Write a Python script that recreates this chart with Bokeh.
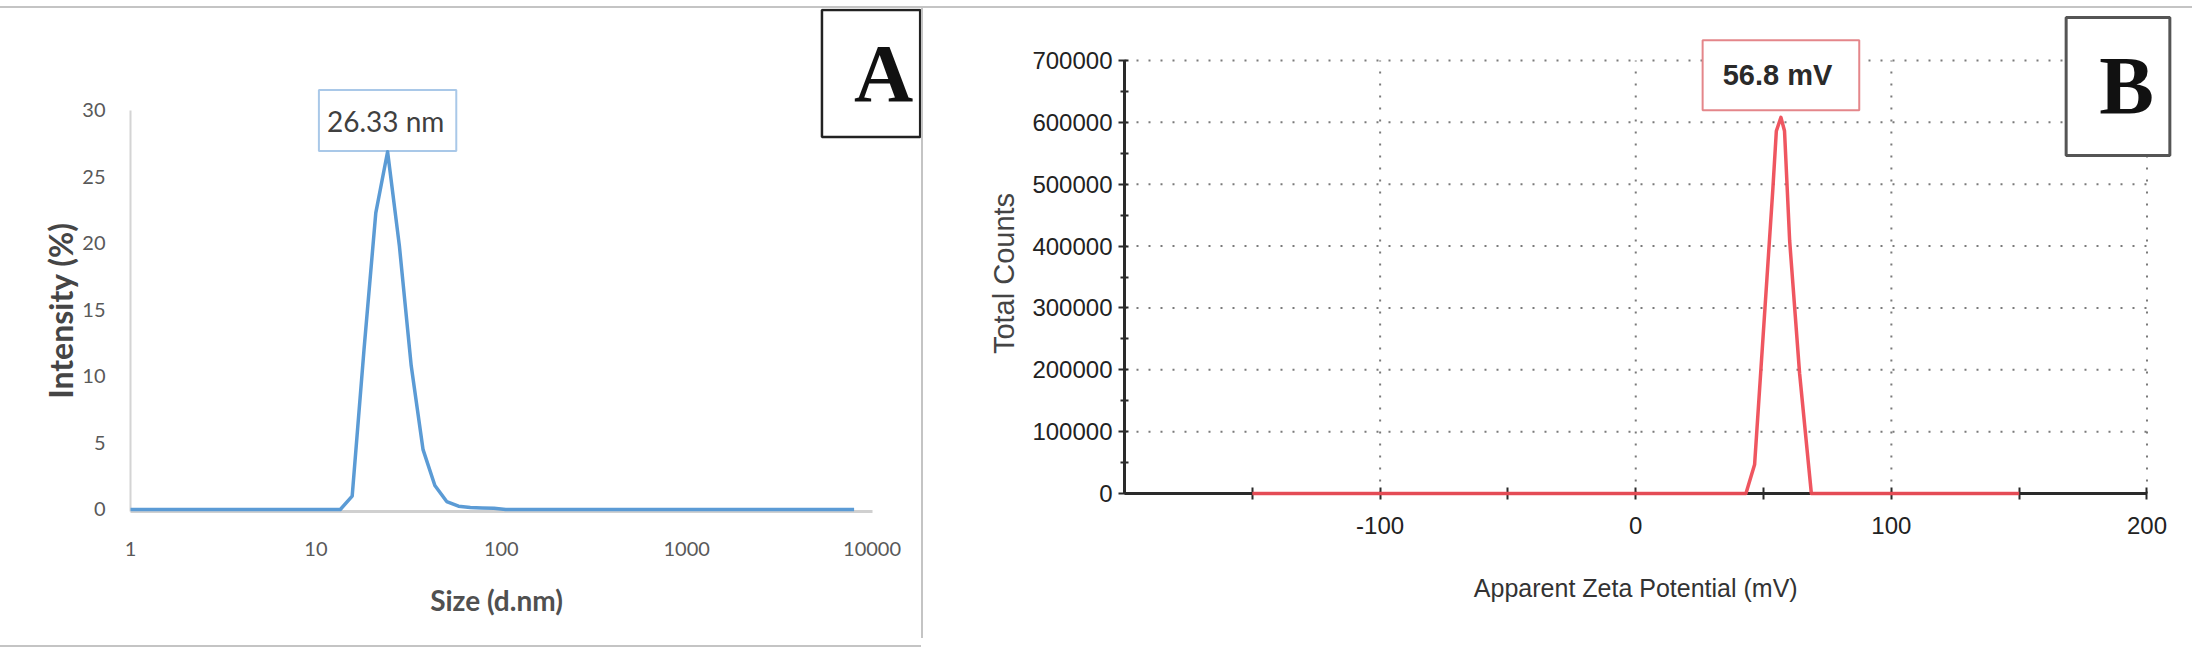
import math
from bokeh.plotting import figure
from bokeh.models import Range1d, FixedTicker, Label, Div, CustomJSTickFormatter
from bokeh.layouts import row, column
from bokeh.embed import file_html
from bokeh.resources import INLINE

# ---------------- Panel A data (DLS size distribution) ----------------
size_nm = [1.0, 13.54, 15.69, 18.17, 21.04, 24.36, 28.21, 32.67, 37.84, 43.82,
           50.75, 58.77, 68.06, 78.82, 91.28, 105.7, 8000.0]
intensity_pct = [0, 0, 1.0, 12.0, 22.3, 26.9, 19.8, 10.8, 4.5, 1.8,
                 0.6, 0.25, 0.15, 0.12, 0.1, 0, 0]
size_ticks = [1, 10, 100, 1000, 10000]
intensity_ticks = [0, 5, 10, 15, 20, 25, 30]
peak_size = 24.36
peak_size_text = "26.33 nm"

# ---------------- Panel B data (zeta potential) ----------------
zeta_mv = [-150, 43.1, 46.5, 53.6, 55.0, 56.8, 58.2, 60.2, 64.1, 68.7, 150]
total_counts = [0, 0, 47000, 490000, 586000, 608000, 586000, 409000, 194000, 0, 0]
zeta_ticks = [-100, 0, 100, 200]
zeta_minor_ticks = [-150, -50, 50, 150]
count_ticks = [0, 100000, 200000, 300000, 400000, 500000, 600000, 700000]
count_minor_ticks = [50000, 150000, 250000, 350000, 450000, 550000, 650000]
peak_zeta = 56.8
peak_zeta_text = "56.8 mV"

LINE_GRAY = "#c4c4c4"
INT_FMT = CustomJSTickFormatter(code="return tick.toFixed(0)")

# ---------------- Panel A ----------------
# frame covers the whole figure; axes sit at fixed data locations
pA = figure(width=921, height=637, x_axis_type="log",
            x_range=Range1d(0.1989, 18478), y_range=Range1d(-10.226, 37.669),
            output_backend="svg", toolbar_location=None,
            min_border=0)
pA.outline_line_color = None
pA.grid.visible = False

pA.line(size_nm, intensity_pct, line_color="#5b9bd5", line_width=3.5,
        line_join="round", level="overlay")

xa = pA.xaxis[0]
xa.fixed_location = -0.15
xa.bounds = (size_ticks[0], size_ticks[-1])
xa.ticker = FixedTicker(ticks=size_ticks)
xa.formatter = CustomJSTickFormatter(code="return tick.toFixed(0)")
xa.axis_line_color = "#d0d0d0"
xa.axis_line_width = 3
xa.major_tick_line_color = None
xa.minor_tick_line_color = None
xa.major_label_text_font = "Lato"
xa.major_label_text_font_size = "20px"
xa.major_label_text_color = "#595959"
xa.major_label_standoff = 25

ya = pA.yaxis[0]
ya.fixed_location = size_ticks[0]
ya.bounds = (-0.15, intensity_ticks[-1])
ya.ticker = FixedTicker(ticks=intensity_ticks)
ya.axis_line_color = "#d4d4d4"
ya.axis_line_width = 2
ya.major_tick_line_color = None
ya.minor_tick_line_color = None
ya.major_label_text_font = "Lato"
ya.major_label_text_font_size = "20px"
ya.major_label_text_color = "#595959"
ya.major_label_standoff = 19

pA.add_layout(Label(x=94.2, y=-6.77, text="Size (d.nm)",
                    text_align="center", text_baseline="middle",
                    text_font="Lato", text_font_size="28px", text_font_style="bold",
                    text_color="#505050"))
pA.add_layout(Label(x=0.419, y=14.96, text="Intensity (%)", angle=math.pi / 2,
                    text_align="center", text_baseline="middle",
                    text_font="Lato", text_font_size="32px", text_font_style="bold",
                    text_color="#454545"))

pA.add_layout(Label(x=peak_size, y=29.25, text=peak_size_text,
                    text_align="center", text_baseline="middle",
                    text_font="Lato", text_font_size="28px",
                    text_color="#404040",
                    background_fill_color="white",
                    border_line_color="#a9c8e8", border_line_width=2,
                    padding=dict(left=8, right=12, top=14, bottom=13)))

pA.add_layout(Label(x=10000, y=32.78, x_offset=-1, text="A",
                    text_align="center", text_baseline="middle",
                    text_font="Liberation Serif", text_font_size="82px",
                    text_font_style="bold", text_color="#111111",
                    background_fill_color="white",
                    border_line_color="#222222", border_line_width=2.5,
                    padding=dict(left=32, right=7, top=18, bottom=18)))

# ---------------- Panel B ----------------
pB = figure(width=1269, height=644,
            x_range=Range1d(-278.63, 217.80), y_range=Range1d(-257044, 784066),
            output_backend="svg", toolbar_location=None,
            min_border=0)
pB.outline_line_color = None
pB.grid.visible = False

# dotted grid, spanning only the axis box
pB.segment(x0=zeta_ticks, y0=count_ticks[0], x1=zeta_ticks, y1=count_ticks[-1],
           line_color="#7a7a7a", line_width=2, line_dash="2 10")
pB.segment(x0=-200, y0=count_ticks[1:], x1=zeta_ticks[-1], y1=count_ticks[1:],
           line_color="#7a7a7a", line_width=2, line_dash="2 10")

pB.line(zeta_mv, total_counts, line_color="#ee4d57", line_width=3.5,
        line_alpha=0.95, line_join="round", level="overlay")

xb = pB.xaxis[0]
xb.fixed_location = 0
xb.bounds = (-200, zeta_ticks[-1])
xb.ticker = FixedTicker(ticks=zeta_ticks, minor_ticks=zeta_minor_ticks)
xb.formatter = INT_FMT
xb.axis_line_color = "#2a2a2a"
xb.axis_line_width = 3
xb.major_tick_line_color = "#2a2a2a"
xb.major_tick_line_width = 2
xb.major_tick_in = 6
xb.major_tick_out = 6
xb.minor_tick_line_color = "#2a2a2a"
xb.minor_tick_line_width = 2
xb.minor_tick_in = 6
xb.minor_tick_out = 6
xb.major_label_text_font = "Liberation Sans"
xb.major_label_text_font_size = "24px"
xb.major_label_text_color = "#222222"
xb.major_label_standoff = 17

yb = pB.yaxis[0]
yb.fixed_location = -200
yb.bounds = (count_ticks[0], count_ticks[-1])
yb.ticker = FixedTicker(ticks=count_ticks, minor_ticks=count_minor_ticks)
yb.formatter = CustomJSTickFormatter(code="return tick.toFixed(0)")
yb.axis_line_color = "#2a2a2a"
yb.axis_line_width = 3
yb.major_tick_line_color = "#2a2a2a"
yb.major_tick_line_width = 2
yb.major_tick_in = 4
yb.major_tick_out = 6
yb.minor_tick_line_color = "#2a2a2a"
yb.minor_tick_line_width = 2
yb.minor_tick_in = 4
yb.minor_tick_out = 4
yb.major_label_text_font = "Liberation Sans"
yb.major_label_text_font_size = "24px"
yb.major_label_text_color = "#222222"
yb.major_label_standoff = 6

pB.add_layout(Label(x=0, y=-151963, text="Apparent Zeta Potential (mV)",
                    text_align="center", text_baseline="middle",
                    text_font="Liberation Sans", text_font_size="25px",
                    text_color="#333333"))
pB.add_layout(Label(x=-247.3, y=355659, text="Total Counts", angle=math.pi / 2,
                    text_align="center", text_baseline="middle",
                    text_font="Liberation Sans", text_font_size="29px",
                    text_color="#444444"))

pB.add_layout(Label(x=peak_zeta, y=676000, text=peak_zeta_text,
                    text_align="center", text_baseline="middle",
                    text_font="Liberation Sans", text_font_size="29px",
                    text_font_style="bold", text_color="#2a2a2a",
                    background_fill_color="white",
                    border_line_color="#e4868a", border_line_width=2,
                    padding=dict(left=20, right=27, top=19, bottom=19)))

pB.add_layout(Label(x=200, y=658000, x_offset=-29, text="B",
                    text_align="center", text_baseline="middle",
                    text_font="Liberation Serif", text_font_size="82px",
                    text_font_style="bold", text_color="#111111",
                    background_fill_color="white",
                    border_line_color="#555555", border_line_width=3,
                    padding=dict(left=33, right=16, top=23, bottom=24)))

# ---------------- page frame lines ----------------
top_gap = Div(width=2192, height=6, margin=0)
top_line = Div(width=2192, height=2, margin=0, styles={"background-color": LINE_GRAY})
vline = Div(width=2, height=630, margin=0, styles={"background-color": LINE_GRAY})
bottom_line = Div(width=921, height=2, margin=0, styles={"background-color": LINE_GRAY})

layout = column(top_gap, top_line,
                row(column(pA, bottom_line, spacing=0), vline, pB, spacing=0),
                spacing=0)

open("out.html", "w").write(file_html(layout, INLINE))
